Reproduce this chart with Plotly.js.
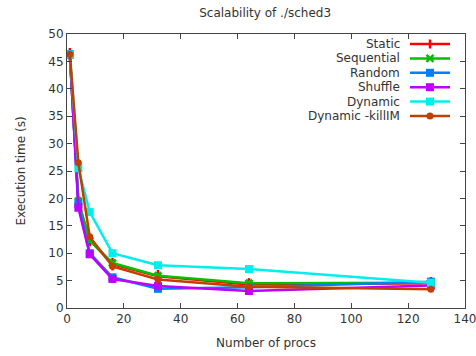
<!DOCTYPE html>
<html><head><meta charset="utf-8">
<script src="https://cdn.plot.ly/plotly-3.0.1.min.js"></script>
<style>body{margin:0;padding:0;background:#fff}#chart{width:476px;height:356px}</style>
</head><body><div id="chart"></div>
<script>
const procs = [1, 4, 8, 16, 32, 64, 128];
const staticT = [46.3, 19.2, 12.4, 8.0, 5.8, 4.3, 4.5];
const sequentialT = [46.3, 19.5, 12.3, 8.2, 5.9, 4.5, 4.6];
const randomT = [46.3, 19.0, 10.0, 5.6, 3.5, 3.8, 4.8];
const shuffleT = [46.3, 18.3, 9.8, 5.3, 4.0, 3.1, 4.1];
const dynamicT = [46.3, 25.5, 17.5, 10.0, 7.8, 7.1, 4.6];
const killT = [46.3, 26.5, 13.0, 7.6, 5.2, 3.9, 3.4];
const names = ['Static', 'Sequential', 'Random', 'Shuffle', 'Dynamic', 'Dynamic -killIM'];
const series = [staticT, sequentialT, randomT, shuffleT, dynamicT, killT];
const colors = ['#ff0000', '#00c000', '#0080ff', '#c000ff', '#00eeee', '#c04000'];
const symbols = ['line-ns', 'x', 'square', 'square', 'square', 'circle'];
const sizes = [9, 8, 8, 8, 8, 7];

const FONT = 'DejaVu Sans';
const TXT = '#333';

const traces = series.map((ys, i) => ({
  x: procs, y: ys, name: names[i], type: 'scatter', mode: 'lines+markers',
  line: {color: colors[i], width: 2.5},
  marker: {color: colors[i], symbol: symbols[i], size: sizes[i],
           line: {color: colors[i], width: symbols[i] === 'line-ns' ? 2.5 : 0}},
  showlegend: false
}));

// gnuplot-style key: right-aligned text, line sample with marker on the right
const W = 398, H = 274; // plot area size in px
const keyTextX = (402 - 67) / W;
const keyL = (410 - 67) / W, keyR = (450 - 67) / W, keyM = (430 - 67) / W;
const keyTop = (308 - 44) / H, keyStep = 14.4 / H;
const annotations = [];
const shapes = [];
names.forEach((nm, i) => {
  const yy = keyTop - i * keyStep;
  annotations.push({xref: 'paper', yref: 'paper', x: keyTextX, y: yy, xanchor: 'right', yanchor: 'middle',
    text: nm, showarrow: false, font: {family: FONT, size: 12, color: TXT}});
  shapes.push({type: 'line', xref: 'paper', yref: 'paper', x0: keyL, x1: keyR, y0: yy, y1: yy,
    line: {color: colors[i], width: 2.5}});
  const c = colors[i];
  const base = {xref: 'paper', yref: 'paper', xsizemode: 'pixel', ysizemode: 'pixel', xanchor: keyM, yanchor: yy};
  if (symbols[i] === 'line-ns') {
    shapes.push(Object.assign({type: 'line', x0: 0, x1: 0, y0: -4.5, y1: 4.5, line: {color: c, width: 2.5}}, base));
  } else if (symbols[i] === 'x') {
    shapes.push(Object.assign({type: 'line', x0: -3.5, x1: 3.5, y0: -3.5, y1: 3.5, line: {color: c, width: 2.5}}, base));
    shapes.push(Object.assign({type: 'line', x0: -3.5, x1: 3.5, y0: 3.5, y1: -3.5, line: {color: c, width: 2.5}}, base));
  } else if (symbols[i] === 'square') {
    shapes.push(Object.assign({type: 'rect', x0: -4, x1: 4, y0: -4, y1: 4, fillcolor: c, line: {width: 0}}, base));
  } else {
    shapes.push(Object.assign({type: 'circle', x0: -3.5, x1: 3.5, y0: -3.5, y1: 3.5, fillcolor: c, line: {width: 0}}, base));
  }
});

const axisCommon = {
  showgrid: false, zeroline: false, showline: true, linecolor: '#444', linewidth: 1,
  mirror: 'ticks', ticks: 'inside', ticklen: 5, tickcolor: '#444', ticklabeloverflow: 'allow',
  tickfont: {family: FONT, size: 12, color: TXT}
};

const layout = {
  width: 476, height: 356,
  margin: {l: 67, r: 11, t: 34, b: 48},
  paper_bgcolor: '#fff', plot_bgcolor: '#fff',
  font: {family: FONT, size: 12, color: TXT},
  title: {text: 'Scalability of ./sched3', font: {family: FONT, size: 12, color: TXT},
          x: 0.557, xanchor: 'center', y: 0.963, yanchor: 'middle'},
  xaxis: Object.assign({}, axisCommon, {range: [0, 140], dtick: 20, tick0: 0,
    title: {text: 'Number of procs', font: {family: FONT, size: 12, color: TXT}, standoff: 13}}),
  yaxis: Object.assign({}, axisCommon, {range: [0, 50], dtick: 5, tick0: 0,
    title: {text: 'Execution time (s)', font: {family: FONT, size: 12, color: TXT}, standoff: 20}}),
  showlegend: false,
  annotations: annotations,
  shapes: shapes
};

Plotly.newPlot('chart', traces, layout, {displayModeBar: false, staticPlot: true});
</script></body></html>
